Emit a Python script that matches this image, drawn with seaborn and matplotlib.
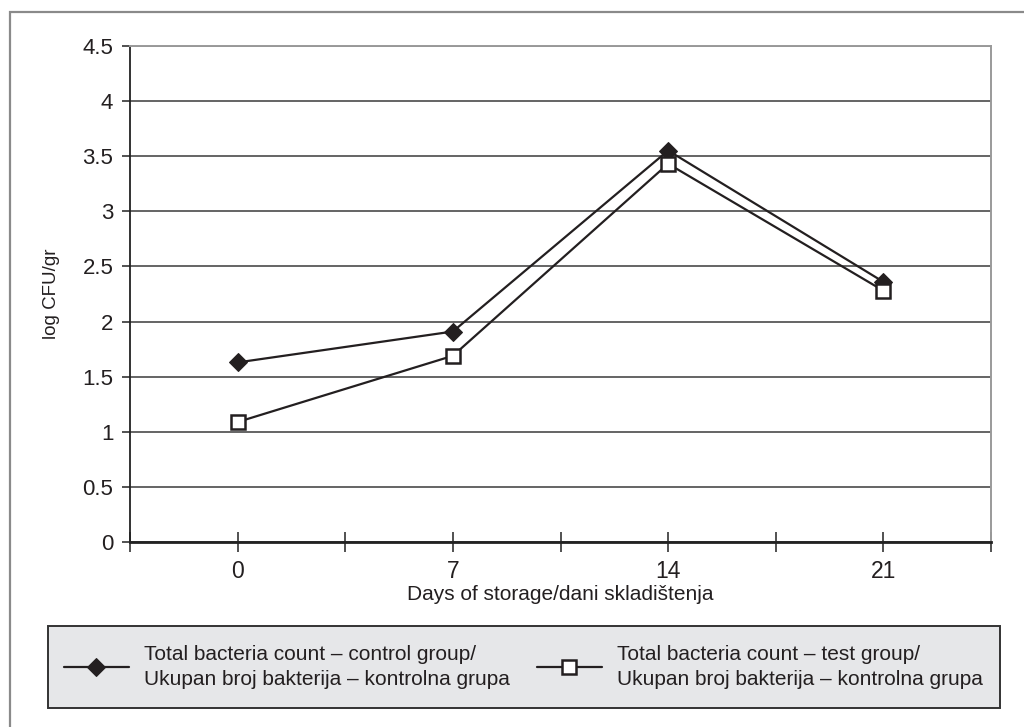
import matplotlib
matplotlib.use("Agg")
import matplotlib.pyplot as plt
from matplotlib.patches import Rectangle
from matplotlib.ticker import FixedLocator, MultipleLocator
import seaborn as sns
import pandas as pd

# Days of storage and bacteria counts (log CFU/gr)
days = ["0", "7", "14", "21"]
control_counts = [1.63, 1.91, 3.55, 2.36]
test_counts = [1.09, 1.69, 3.43, 2.28]
control_label = "Total bacteria count \u2013 control group/\nUkupan broj bakterija \u2013 kontrolna grupa"
test_label = "Total bacteria count \u2013 test group/\nUkupan broj bakterija \u2013 kontrolna grupa"
y_ticks = [0, 0.5, 1, 1.5, 2, 2.5, 3, 3.5, 4, 4.5]
y_tick_labels = ["0", "0.5", "1", "1.5", "2", "2.5", "3", "3.5", "4", "4.5"]

sns.set_theme(style="white")
fonts = ["Liberation Sans", "DejaVu Sans"]
plt.rcParams["font.family"] = fonts

ink = "#231f20"

df = pd.DataFrame({
    "pos": list(range(len(days))) * 2,
    "count": control_counts + test_counts,
    "group": ["control"] * len(days) + ["test"] * len(days),
})

fig = plt.figure(figsize=(10.24, 7.27), dpi=100)
fig.patch.set_facecolor("white")
ax = fig.add_axes([130 / 1024, 1 - 542.3 / 727, (991 - 130) / 1024, (542.3 - 45.7) / 727])

# outer frame (continues past the right and bottom edges)
fig.patches.append(Rectangle((10 / 1024, -0.2), 1.2, 1 - 12 / 727 + 0.2,
                             transform=fig.transFigure, fill=False,
                             edgecolor="#8a8a8a", linewidth=1.6, zorder=0))
# legend panel
fig.patches.append(Rectangle((48 / 1024, 1 - 708 / 727), 952 / 1024, 82 / 727,
                             transform=fig.transFigure, facecolor="#e6e7e9",
                             edgecolor="#333333", linewidth=1.4, zorder=1))

ctrl = df[df["group"] == "control"]
test = df[df["group"] == "test"]
sns.lineplot(data=ctrl, x="pos", y="count", ax=ax, color=ink, linewidth=1.6,
             marker="D", markersize=9.5, markerfacecolor=ink, markeredgecolor=ink,
             label=control_label, zorder=3)
sns.lineplot(data=test, x="pos", y="count", ax=ax, color=ink, linewidth=1.6,
             marker="s", markersize=9.5, markerfacecolor="white", markeredgecolor=ink,
             markeredgewidth=1.8, label=test_label, zorder=4)

ax.set_xlim(-0.5, len(days) - 0.5)
ax.set_ylim(0, 4.5)

ax.xaxis.set_major_locator(FixedLocator(range(len(days))))
ax.set_xticklabels(days, fontsize=16.5, color=ink)
ax.xaxis.set_minor_locator(MultipleLocator(1.0, offset=0.5))
ax.tick_params(axis="x", which="both", direction="inout", length=14, width=1.2,
               color="#333333", bottom=True, pad=6)

ax.set_yticks(y_ticks)
ax.set_yticklabels(y_tick_labels, fontsize=16, color=ink)
ax.tick_params(axis="y", direction="out", length=6, width=1.2, color="#333333",
               left=True, pad=6)

ax.grid(axis="y", color="#3a3a3a", linewidth=1.1)
ax.grid(axis="x", visible=False)
ax.set_axisbelow(True)

for side in ["top", "right"]:
    ax.spines[side].set_color("#9a9a9a")
    ax.spines[side].set_linewidth(1.4)
ax.spines["left"].set_color("#222222")
ax.spines["left"].set_linewidth(1.3)
ax.spines["bottom"].set_color("#222222")
ax.spines["bottom"].set_linewidth(2.0)

ax.set_xlabel("Days of storage/dani skladi\u0161tenja", fontsize=15, color=ink,
              labelpad=1)
ax.set_ylabel("log CFU/gr", fontsize=13.5, color=ink, labelpad=16)

handles, labels = ax.get_legend_handles_labels()
ax.get_legend().remove()
leg = fig.legend(handles, labels, loc="center left", ncol=2,
                 bbox_to_anchor=(64 / 1024, 1 - 667 / 727),
                 fontsize=15, frameon=False,
                 handlelength=3.1, handletextpad=0.75, columnspacing=1.3,
                 borderaxespad=0, borderpad=0)
leg.set_zorder(5)
for t in leg.get_texts():
    t.set_color(ink)
    t.set_linespacing(1.35)

fig.savefig("out.png", dpi=100, facecolor="white")
